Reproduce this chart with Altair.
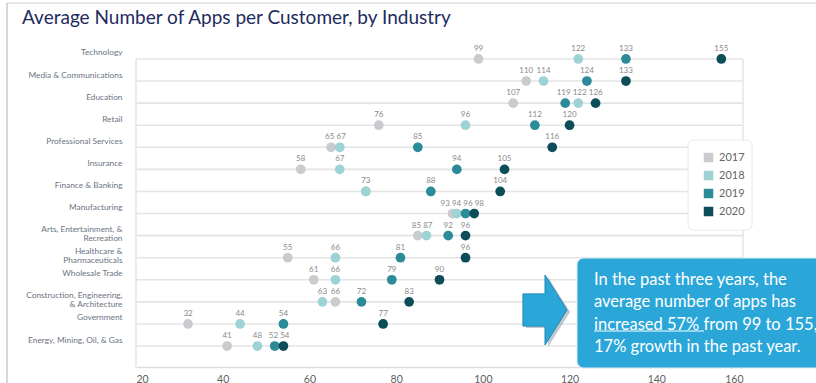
import altair as alt
import pandas as pd

title_text = "Average Number of Apps per Customer, by Industry"
industries = [
    "Technology", "Media & Communications", "Education", "Retail",
    "Professional Services", "Insurance", "Finance & Banking", "Manufacturing",
    "Arts, Entertainment, &|Recreation", "Healthcare &|Pharmaceuticals",
    "Wholesale Trade", "Construction, Engineering,|& Architecture",
    "Government", "Energy, Mining, Oil, & Gas",
]
years = ["2017", "2018", "2019", "2020"]
v2017 = [99, 110, 107, 76, 65, 58, 73, 93, 85, 55, 61, 66, 32, 41]
v2018 = [122, 114, 122, 96, 67, 67, 73, 94, 87, 66, 66, 63, 44, 48]
v2019 = [133, 124, 119, 112, 85, 94, 88, 96, 92, 81, 79, 72, 54, 52]
v2020 = [155, 133, 126, 120, 116, 105, 104, 98, 96, 96, 90, 83, 77, 54]
colors = ["#c9cbcf", "#9dd3d5", "#2b8b99", "#0c4d59"]
x_ticks = [20, 40, 60, 80, 100, 120, 140, 160]

W, H = 607, 329
XMIN, XMAX = 20, 160
PX = W / (XMAX - XMIN)

rows = []
for yr, vals in zip(years, [v2017, v2018, v2019, v2020]):
    for ind, v in zip(industries, vals):
        rows.append({"industry": ind, "year": yr, "value": v})
df = pd.DataFrame(rows)

# value labels: one per distinct value in a row, nudged apart so they do not collide
lab_rows = []
digit_w = 4.7
gap = 2.0
for ind in industries:
    vals = sorted(set(df.loc[df.industry == ind, "value"]))
    pos = [(v - XMIN) * PX for v in vals]
    wid = [len(str(v)) * digit_w for v in vals]
    new = list(pos)
    for i in range(1, len(new)):
        need = new[i - 1] + (wid[i - 1] + wid[i]) / 2 + gap
        if new[i] < need:
            new[i] = need
    i = 0
    while i < len(new):
        j = i
        while j + 1 < len(new) and new[j + 1] - new[j] <= (wid[j] + wid[j + 1]) / 2 + gap + 0.1:
            j += 1
        shift = sum(pos[i:j + 1]) / (j - i + 1) - sum(new[i:j + 1]) / (j - i + 1)
        for k in range(i, j + 1):
            new[k] += shift
        i = j + 1
    for v, p in zip(vals, new):
        lab_rows.append({"industry": ind, "value": v, "lx": XMIN + p / PX})
df_lab = pd.DataFrame(lab_rows)

df_rows = pd.DataFrame({"industry": industries, "x0": XMIN, "x1": XMAX})
df_frame = pd.DataFrame({"industry": [industries[0]] * 2, "x": [XMIN, XMAX]})

xscale = alt.Scale(domain=[XMIN, XMAX], nice=False, zero=False)
yscale = alt.Scale(type="point", domain=industries, padding=0.95)

yaxis = alt.Axis(
    title=None, ticks=False, domain=False, grid=False,
    labelExpr="split(datum.label, '|')",
    labelFont="Lato", labelFontSize=8.3, labelColor="#6b7383",
    labelPadding=14, labelLimit=300, labelLineHeight=8.5,
    labelOffset=-6,
)
xaxis = alt.Axis(
    title=None, ticks=False, grid=False, values=x_ticks,
    labelFont="Lato", labelFontSize=10.5, labelColor="#606060",
    labelPadding=7, domainColor="#dddddd", domainWidth=1.5,
)

gridrows = alt.Chart(df_rows).mark_rule(color="#e4e4e4", strokeWidth=1.6).encode(
    y=alt.Y("industry:N", scale=yscale, axis=yaxis, sort=industries),
    x=alt.X("x0:Q", scale=xscale, axis=xaxis),
    x2="x1:Q",
)
frame = alt.Chart(df_frame).mark_rule(color="#e4e4e4", strokeWidth=1.5).encode(
    y=alt.Y("industry:N", scale=yscale, sort=industries),
    y2=alt.value(H),
    x=alt.X("x:Q", scale=xscale),
)
note = pd.DataFrame({
    "t": ["In the past three years, the\naverage number of apps has\nincreased 57% from 99 to 155,\n17% growth in the past year."],
    "title": [title_text],
})
legend_box = alt.Chart(note).mark_rect(
    fill="white", stroke="#eaeaea", strokeWidth=1, cornerRadius=5
).encode(x=alt.value(552), x2=alt.value(616), y=alt.value(102), y2=alt.value(192))

dots = alt.Chart(df).mark_circle(size=95, opacity=1).encode(
    x=alt.X("value:Q", scale=xscale),
    y=alt.Y("industry:N", scale=yscale, sort=industries),
    color=alt.Color(
        "year:N",
        scale=alt.Scale(domain=years, range=colors),
        legend=alt.Legend(
            title=None, orient="none", legendX=567, legendY=114,
            symbolType="square", symbolSize=90, symbolStrokeWidth=0,
            labelFont="Lato", labelFontSize=11, labelColor="#666666",
            rowPadding=6, padding=0, labelOffset=5,
        ),
    ),
    order=alt.Order("year:N"),
)
labels = alt.Chart(df_lab).mark_text(
    dy=-10, fontSize=8, color="#8a8a8a", font="Lato"
).encode(
    x=alt.X("lx:Q", scale=xscale),
    y=alt.Y("industry:N", scale=yscale, sort=industries),
    text="value:Q",
)

box = alt.Chart(note).mark_rect(color="#2aa6d9", cornerRadius=7, stroke="#d8eef8", strokeWidth=1).encode(
    x=alt.value(441), x2=alt.value(720), y=alt.value(220), y2=alt.value(330)
)
box_text = alt.Chart(note).mark_text(
    align="left", baseline="middle", font="Lato", fontSize=16.5,
    color="white", lineBreak="\n", lineHeight=22.3,
).encode(
    x=alt.value(458), y=alt.value(242), text="t:N"
)
underline = alt.Chart(note).mark_rule(color="white", strokeWidth=1.2).encode(
    x=alt.value(458), x2=alt.value(568), y=alt.value(293)
)
arrow_path = "M-0.63,-0.46L0,-0.46L0,-1L0.63,0L0,1L0,0.46L-0.63,0.46Z"
arrow_shadow = alt.Chart(note).mark_point(
    shape=arrow_path, filled=True, color="#9aa4ad", opacity=0.6, size=4900
).encode(x=alt.value(412), y=alt.value(274))
arrow = alt.Chart(note).mark_point(
    shape=arrow_path, filled=True, color="#2aa6d9", opacity=1, size=4900,
    stroke="#1d86b8", strokeWidth=1,
).encode(x=alt.value(409), y=alt.value(272))
border = alt.Chart(note).mark_rule(color="#bdbdbd", strokeWidth=1.2).encode(
    x=alt.value(-129), y=alt.value(-35), y2=alt.value(345)
)
border_top = alt.Chart(note).mark_rule(color="#d0d0d0", strokeWidth=1).encode(
    x=alt.value(-129), x2=alt.value(680), y=alt.value(-35)
)
title = alt.Chart(note).mark_text(
    align="left", baseline="alphabetic", font="Lato", fontSize=19,
    color="#1e2b5e",
).encode(x=alt.value(-114), y=alt.value(-14), text="title:N")

chart = alt.layer(
    gridrows, frame, legend_box, dots, labels, arrow_shadow, arrow, box, box_text,
    underline, border, border_top, title,
).properties(
    width=W, height=H,
    autosize=alt.AutoSizeParams(type="none"),
    padding={"left": 136, "top": 38, "right": 73, "bottom": 16},
).configure_view(strokeWidth=0)

chart.save("out.html", embed_options={"renderer": "svg", "actions": False})
